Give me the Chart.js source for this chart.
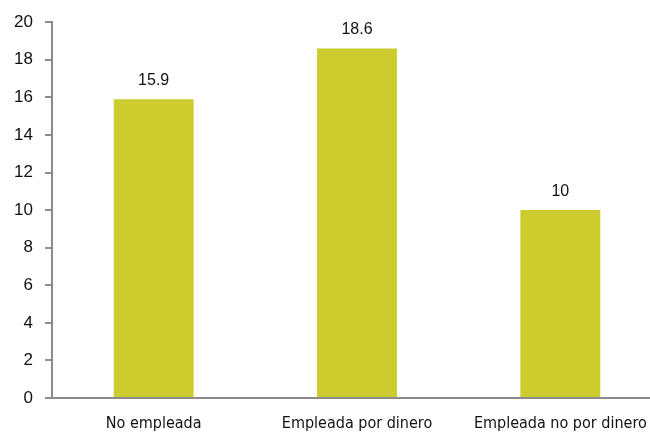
<!DOCTYPE html>
<html>
<head>
<meta charset="utf-8">
<script src="https://cdn.jsdelivr.net/npm/chart.js@4/dist/chart.umd.min.js"></script>
<style>
  html, body { margin: 0; padding: 0; background: #fff; }
  #wrap { width: 650px; height: 434px; overflow: hidden; position: relative; }
  #box { width: 665px; height: 434px; }
</style>
</head>
<body>
<div id="wrap"><div id="box"><canvas id="barChart"></canvas></div></div>
<script>
const categories = ['No empleada', 'Empleada por dinero', 'Empleada no por dinero'];
const values = [15.9, 18.6, 10];
const valueLabels = ['15.9', '18.6', '10'];
const yTicks = [0, 2, 4, 6, 8, 10, 12, 14, 16, 18, 20];

const barColor = '#cccc2e';
const axisColor = '#8c8c8c';

// value printed above each bar
const barValues = {
    id: 'barValues',
    afterDatasetsDraw(chart) {
        const ctx = chart.ctx;
        const meta = chart.getDatasetMeta(0);
        ctx.save();
        ctx.font = '16px "Liberation Sans", Arial, sans-serif';
        ctx.fillStyle = '#111';
        ctx.textAlign = 'center';
        ctx.textBaseline = 'middle';
        meta.data.forEach((bar, i) => {
            ctx.fillText(valueLabels[i], bar.x, bar.y - 19);
        });
        ctx.restore();
    }
};

new Chart(document.getElementById('barChart'), {
    type: 'bar',
    data: {
        labels: categories,
        datasets: [{
            data: values,
            backgroundColor: barColor,
            borderWidth: 0,
            barPercentage: 0.393,
            categoryPercentage: 1
        }]
    },
    options: {
        responsive: true,
        maintainAspectRatio: false,
        animation: false,
        layout: { padding: { top: 22, right: 3, bottom: 0, left: 0 } },
        plugins: {
            legend: { display: false },
            tooltip: { enabled: false }
        },
        scales: {
            x: {
                grid: { display: false },
                border: { color: axisColor, width: 2 },
                ticks: {
                    color: '#111',
                    padding: 8,
                    maxRotation: 0,
                    font: { family: '"Liberation Sans Narrow", "DejaVu Sans Condensed", Arial, sans-serif', size: 16 }
                },
                afterFit(scale) { scale.height = 36; }
            },
            y: {
                min: 0,
                max: 20,
                afterBuildTicks(scale) { scale.ticks = yTicks.map(v => ({ value: v })); },
                grid: {
                    drawOnChartArea: false,
                    tickLength: 7,
                    tickColor: axisColor,
                    lineWidth: 2
                },
                border: { color: axisColor, width: 2 },
                ticks: {
                    color: '#111',
                    padding: 12,
                    font: { family: '"Liberation Sans", Arial, sans-serif', size: 17 }
                },
                afterFit(scale) { scale.width = 52; }
            }
        }
    },
    plugins: [barValues]
});
</script>
</body>
</html>
